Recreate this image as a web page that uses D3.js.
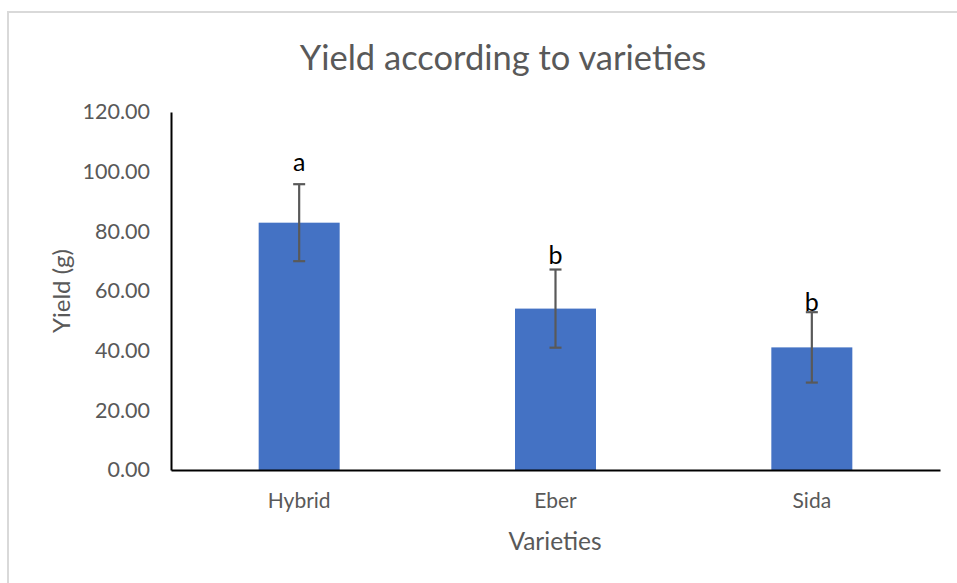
<!DOCTYPE html>
<html>
<head>
<meta charset="utf-8">
<script src="https://cdn.jsdelivr.net/npm/d3@7"></script>
<style>
  body { margin: 0; background: #fff; }
  text { font-family: Lato, "Open Sans", sans-serif; }
</style>
</head>
<body>
<div id="chart"></div>
<script>
// Chart data
const varieties = ["Hybrid", "Eber", "Sida"];
const yieldMeans = [82.9, 54.1, 41.1];
const yieldErrors = [12.9, 13.1, 11.8];
const groupLetters = ["a", "b", "b"];
// where each letter sits, in yield units (baseline)
const letterLevels = [100.2, 69.1, 53.3];
const yTicks = [0, 20, 40, 60, 80, 100, 120];

const width = 957, height = 583;
const margin = { top: 112, right: 17, bottom: 113, left: 171 };

const svg = d3.select("#chart")
  .append("svg")
  .attr("width", width)
  .attr("height", height);

// Chart frame
svg.append("rect")
  .attr("x", 8)
  .attr("y", 12)
  .attr("width", 980)
  .attr("height", 620)
  .attr("fill", "white")
  .attr("stroke", "#d9d9d9")
  .attr("stroke-width", 2);

const x = d3.scaleBand()
  .domain(varieties)
  .range([margin.left, width - margin.right])
  .paddingInner(0.684)
  .paddingOuter(0.342);

const y = d3.scaleLinear()
  .domain([0, 120])
  .range([height - margin.bottom, margin.top]);

// Title
svg.append("text")
  .attr("x", 503)
  .attr("y", 70)
  .attr("text-anchor", "middle")
  .attr("fill", "#595959")
  .style("font-size", "34.5px")
  .text("Yield according to varieties");

// Bars
svg.selectAll(".bar")
  .data(varieties)
  .join("rect")
  .attr("class", "bar")
  .attr("x", d => x(d))
  .attr("y", (d, i) => y(yieldMeans[i]))
  .attr("width", x.bandwidth())
  .attr("height", (d, i) => y(0) - y(yieldMeans[i]))
  .attr("fill", "#4472c4");

// Error bars
const err = svg.selectAll(".err")
  .data(varieties)
  .join("g")
  .attr("class", "err")
  .attr("stroke", "#595959")
  .attr("stroke-width", 2.2);

err.append("line")
  .attr("x1", d => x(d) + x.bandwidth() / 2)
  .attr("x2", d => x(d) + x.bandwidth() / 2)
  .attr("y1", (d, i) => y(yieldMeans[i] + yieldErrors[i]))
  .attr("y2", (d, i) => y(yieldMeans[i] - yieldErrors[i]));

[1, -1].forEach(s => {
  err.append("line")
    .attr("x1", d => x(d) + x.bandwidth() / 2 - 6)
    .attr("x2", d => x(d) + x.bandwidth() / 2 + 6)
    .attr("y1", (d, i) => y(yieldMeans[i] + s * yieldErrors[i]))
    .attr("y2", (d, i) => y(yieldMeans[i] + s * yieldErrors[i]));
});

// Significance letters
svg.selectAll(".letter")
  .data(varieties)
  .join("text")
  .attr("class", "letter")
  .attr("x", d => x(d) + x.bandwidth() / 2)
  .attr("y", (d, i) => y(letterLevels[i]))
  .attr("text-anchor", "middle")
  .attr("fill", "#000")
  .style("font-size", "25px")
  .text((d, i) => groupLetters[i]);

// Y axis
const yAxis = svg.append("g")
  .attr("transform", `translate(${margin.left},0)`)
  .call(d3.axisLeft(y).tickValues(yTicks).tickFormat(d3.format(".2f")).tickSize(0).tickPadding(21));
yAxis.select(".domain").attr("stroke", "#000").attr("stroke-width", 2);
yAxis.selectAll("text")
  .attr("fill", "#595959")
  .style("font-size", "21.5px")
  .style("font-family", "Lato, sans-serif");

// X axis
const xAxis = svg.append("g")
  .attr("transform", `translate(0,${y(0)})`)
  .call(d3.axisBottom(x).tickSize(0).tickPadding(23));
xAxis.select(".domain").attr("stroke", "#000").attr("stroke-width", 2);
xAxis.selectAll("text")
  .attr("fill", "#595959")
  .style("font-size", "21px")
  .style("font-family", "Lato, sans-serif");

// Axis titles
svg.append("text")
  .attr("transform", "translate(70,291) rotate(-90)")
  .attr("text-anchor", "middle")
  .attr("fill", "#595959")
  .style("font-size", "24px")
  .text("Yield (g)");

svg.append("text")
  .attr("x", 555)
  .attr("y", 550)
  .attr("text-anchor", "middle")
  .attr("fill", "#595959")
  .style("font-size", "24.5px")
  .text("Varieties");
</script>
</body>
</html>
